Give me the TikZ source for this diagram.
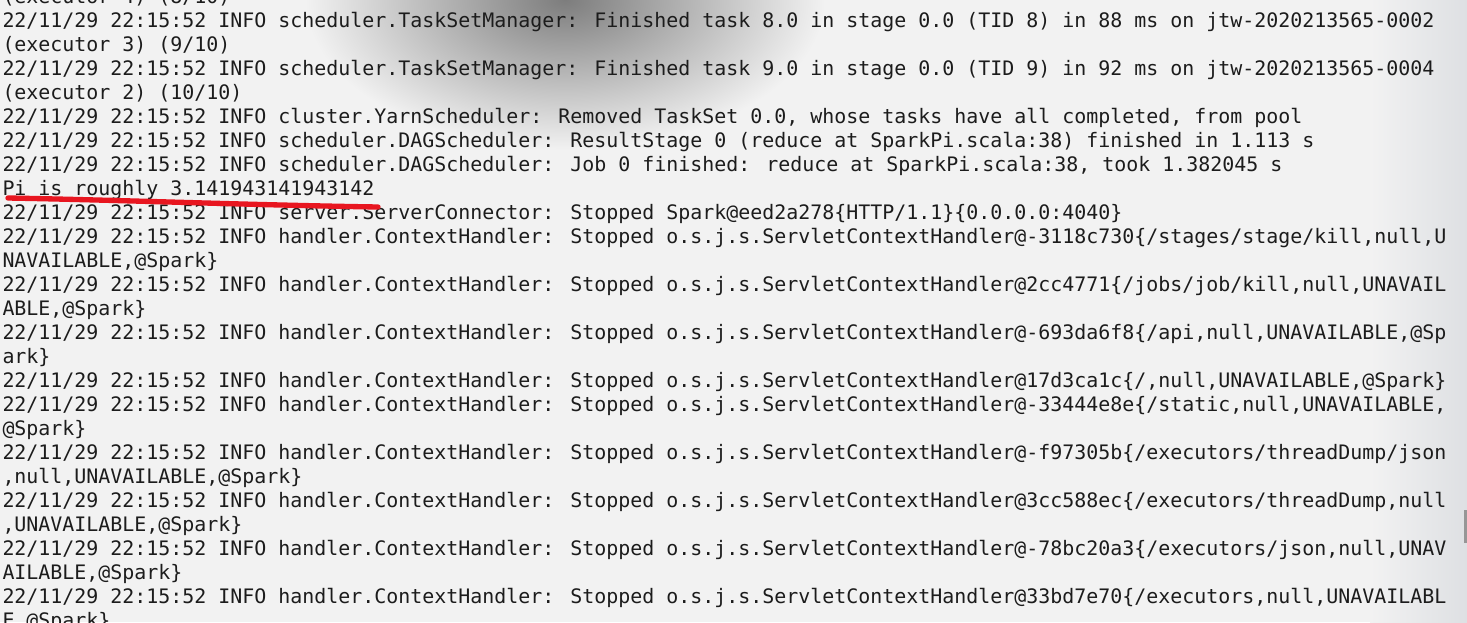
\documentclass[tikz,border=0pt]{standalone}
\usepackage{fontspec}
\newfontfamily\termfont{DejaVu Sans Mono}

\definecolor{termbg}{RGB}{242,242,242}
\definecolor{termtext}{RGB}{28,28,28}
\definecolor{markred}{RGB}{232,22,32}

\tikzset{every picture/.style={line width=0.75pt}}
\tikzset{logline/.style={anchor=base west, inner sep=0pt, text=termtext, font=\termfont\fontsize{14.95}{18}\selectfont}}

\begin{document}
\begin{tikzpicture}[x=0.75pt,y=0.75pt,yscale=-1,xscale=1]
\useasboundingbox (0,0) rectangle (1467,622);

%Shape: Rectangle [id:background]
\fill [termbg] (0,0) rectangle (1467,622);
%Shape: Blur [id:shadow top]
\shade [inner color={rgb,255:red,125;green,125;blue,125}, outer color=termbg] (565,0) ellipse (260 and 150);
%Shape: Blur [id:shadow right]
\shade [left color=termbg, right color={rgb,255:red,222;green,224;blue,227}] (1370,0) rectangle (1467,622);

% Text Node
\node [logline] (l0) at (2,3) {(executor 4) (8/10)};
% Text Node
\node [logline] (l1) at (2,27) {22/11/29 22:15:52 INFO scheduler.TaskSetManager: Finished task 8.0 in stage 0.0 (TID 8) in 88 ms on jtw-2020213565-0002};
% Text Node
\node [logline] (l2) at (2,51) {(executor 3) (9/10)};
% Text Node
\node [logline] (l3) at (2,75) {22/11/29 22:15:52 INFO scheduler.TaskSetManager: Finished task 9.0 in stage 0.0 (TID 9) in 92 ms on jtw-2020213565-0004};
% Text Node
\node [logline] (l4) at (2,99) {(executor 2) (10/10)};
% Text Node
\node [logline] (l5) at (2,123) {22/11/29 22:15:52 INFO cluster.YarnScheduler: Removed TaskSet 0.0, whose tasks have all completed, from pool};
% Text Node
\node [logline] (l6) at (2,147) {22/11/29 22:15:52 INFO scheduler.DAGScheduler: ResultStage 0 (reduce at SparkPi.scala:38) finished in 1.113 s};
% Text Node
\node [logline] (l7) at (2,171) {22/11/29 22:15:52 INFO scheduler.DAGScheduler: Job 0 finished: reduce at SparkPi.scala:38, took 1.382045 s};
% Text Node
\node [logline] (l8) at (2,195) {Pi is roughly 3.141943141943142};
% Text Node
\node [logline] (l9) at (2,219) {22/11/29 22:15:52 INFO server.ServerConnector: Stopped Spark@eed2a278\{HTTP/1.1\}\{0.0.0.0:4040\}};
% Text Node
\node [logline] (l10) at (2,243) {22/11/29 22:15:52 INFO handler.ContextHandler: Stopped o.s.j.s.ServletContextHandler@-3118c730\{/stages/stage/kill,null,U};
% Text Node
\node [logline] (l11) at (2,267) {NAVAILABLE,@Spark\}};
% Text Node
\node [logline] (l12) at (2,291) {22/11/29 22:15:52 INFO handler.ContextHandler: Stopped o.s.j.s.ServletContextHandler@2cc4771\{/jobs/job/kill,null,UNAVAIL};
% Text Node
\node [logline] (l13) at (2,315) {ABLE,@Spark\}};
% Text Node
\node [logline] (l14) at (2,339) {22/11/29 22:15:52 INFO handler.ContextHandler: Stopped o.s.j.s.ServletContextHandler@-693da6f8\{/api,null,UNAVAILABLE,@Sp};
% Text Node
\node [logline] (l15) at (2,363) {ark\}};
% Text Node
\node [logline] (l16) at (2,387) {22/11/29 22:15:52 INFO handler.ContextHandler: Stopped o.s.j.s.ServletContextHandler@17d3ca1c\{/,null,UNAVAILABLE,@Spark\}};
% Text Node
\node [logline] (l17) at (2,411) {22/11/29 22:15:52 INFO handler.ContextHandler: Stopped o.s.j.s.ServletContextHandler@-33444e8e\{/static,null,UNAVAILABLE,};
% Text Node
\node [logline] (l18) at (2,435) {@Spark\}};
% Text Node
\node [logline] (l19) at (2,459) {22/11/29 22:15:52 INFO handler.ContextHandler: Stopped o.s.j.s.ServletContextHandler@-f97305b\{/executors/threadDump/json};
% Text Node
\node [logline] (l20) at (2,483) {,null,UNAVAILABLE,@Spark\}};
% Text Node
\node [logline] (l21) at (2,507) {22/11/29 22:15:52 INFO handler.ContextHandler: Stopped o.s.j.s.ServletContextHandler@3cc588ec\{/executors/threadDump,null};
% Text Node
\node [logline] (l22) at (2,531) {,UNAVAILABLE,@Spark\}};
% Text Node
\node [logline] (l23) at (2,555) {22/11/29 22:15:52 INFO handler.ContextHandler: Stopped o.s.j.s.ServletContextHandler@-78bc20a3\{/executors/json,null,UNAV};
% Text Node
\node [logline] (l24) at (2,579) {AILABLE,@Spark\}};
% Text Node
\node [logline] (l25) at (2,603) {22/11/29 22:15:52 INFO handler.ContextHandler: Stopped o.s.j.s.ServletContextHandler@33bd7e70\{/executors,null,UNAVAILABL};
% Text Node
\node [logline] (l26) at (2,627) {E,@Spark\}};

%Curve Lines [id:red underline]
\draw [markred, line width=4, line cap=round] (8,198) .. controls (120,200) and (250,205) .. (378,207) ;
%Straight Lines [id:scrollbar]
\draw [line width=2.25, color={rgb,255:red,150;green,150;blue,150}] (1465,510) -- (1465,543) ;

\end{tikzpicture}
\end{document}
